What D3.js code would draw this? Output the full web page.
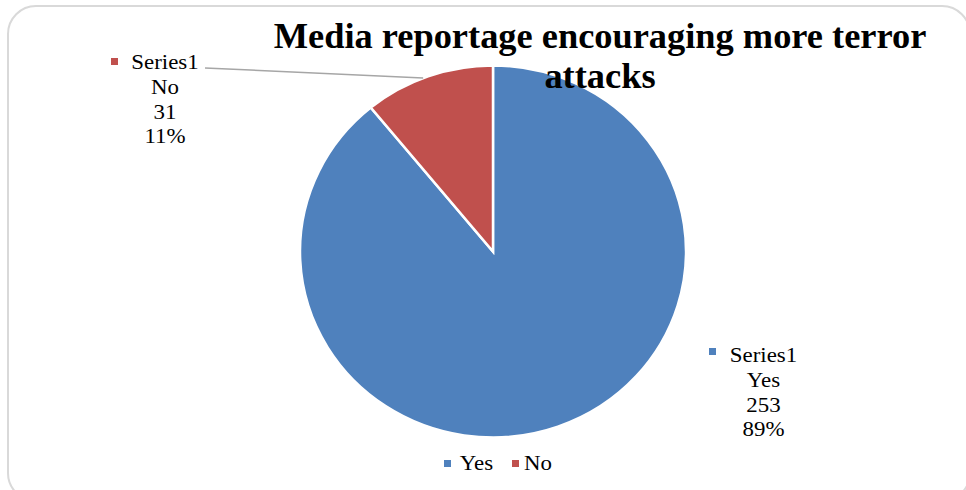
<!DOCTYPE html>
<html>
<head>
<meta charset="utf-8">
<script src="https://cdn.jsdelivr.net/npm/d3@7"></script>
<style>
  html, body { margin: 0; padding: 0; background: #fff; }
  svg { display: block; }
  text { font-family: "Liberation Serif", "Times New Roman", serif; fill: #000; }
</style>
</head>
<body>
<svg id="chart" width="966" height="490"></svg>
<script>
// Survey answers: media reportage encouraging more terror attacks
const categories = ["Yes", "No"];
const values = [253, 31];
const seriesName = "Series1";
const colors = ["#4f81bd", "#c0504d"];
const titleLines = ["Media reportage encouraging more terror", "attacks"];

const svg = d3.select("#chart");
const sx = 1.04; // slight horizontal stretch of the whole drawing

// chart frame
svg.append("rect")
  .attr("x", 8).attr("y", 6)
  .attr("width", 962).attr("height", 495)
  .attr("rx", 28).attr("ry", 28)
  .attr("fill", "#fff")
  .attr("stroke", "#d9d9d9")
  .attr("stroke-width", 2);

const cx = 493, cy = 251.5, rx = 193, ry = 186;
const total = d3.sum(values);

const pie = d3.pie().sort(null).value(d => d.value);
const data = pie(categories.map((c, i) => ({ cat: c, value: values[i], color: colors[i] })));
const arc = d3.arc().innerRadius(0).outerRadius(rx);

const g = svg.append("g")
  .attr("transform", `translate(${cx},${cy}) scale(1,${ry / rx})`);

g.selectAll("path")
  .data(data)
  .join("path")
  .attr("d", arc)
  .attr("fill", d => d.data.color)
  .attr("stroke", "#fff")
  .attr("stroke-width", 2.5)
  .attr("vector-effect", "non-scaling-stroke");

// point on the ellipse rim for a given angle
function rim(a, k) {
  return [cx + Math.sin(a) * rx * k, cy - Math.cos(a) * ry * k];
}

const fmtPct = v => Math.round(v / total * 100) + "%";

// text block centred at x, stretched horizontally around its anchor
function stretchedText(x, y, size, weight) {
  return svg.append("g")
    .attr("transform", `translate(${x},${y}) scale(${sx},1)`)
    .append("text")
    .attr("text-anchor", "middle")
    .attr("font-size", size)
    .attr("font-weight", weight || "normal");
}

// leader line for the small slice
{
  const d = data[1];
  const mid = d.startAngle + (d.endAngle - d.startAngle) * 0.46;
  const p = rim(mid, 1.0);
  svg.append("line")
    .attr("x1", 205).attr("y1", 68)
    .attr("x2", p[0]).attr("y2", p[1])
    .attr("stroke", "#a6a6a6")
    .attr("stroke-width", 1.5);
}

// data labels
const labelSpecs = [
  { x: 763.5, y: 362, marker: [709, 348] },
  { x: 165, y: 69, marker: [111, 58] }
];

data.forEach((d, i) => {
  const s = labelSpecs[i];
  const lines = [seriesName, d.data.cat, String(d.data.value), fmtPct(d.data.value)];
  const t = stretchedText(s.x, s.y, 22);
  lines.forEach((ln, j) => {
    t.append("tspan").attr("x", 0).attr("y", j * 24.8).text(ln);
  });
  svg.append("rect")
    .attr("x", s.marker[0]).attr("y", s.marker[1])
    .attr("width", 7).attr("height", 7)
    .attr("fill", d.data.color);
});

// title
{
  const t = stretchedText(600, 48, 35, "bold");
  t.selectAll("tspan")
    .data(titleLines)
    .join("tspan")
    .attr("x", 0)
    .attr("y", (d, i) => i * 40)
    .text(d => d);
}

// legend
const legendItems = [{ x: 444, tx: 476.5 }, { x: 512, tx: 538 }];
categories.forEach((c, i) => {
  svg.append("rect")
    .attr("x", legendItems[i].x).attr("y", 460)
    .attr("width", 7).attr("height", 7)
    .attr("fill", colors[i]);
  stretchedText(legendItems[i].tx, 470, 22).text(c);
});
</script>
</body>
</html>
